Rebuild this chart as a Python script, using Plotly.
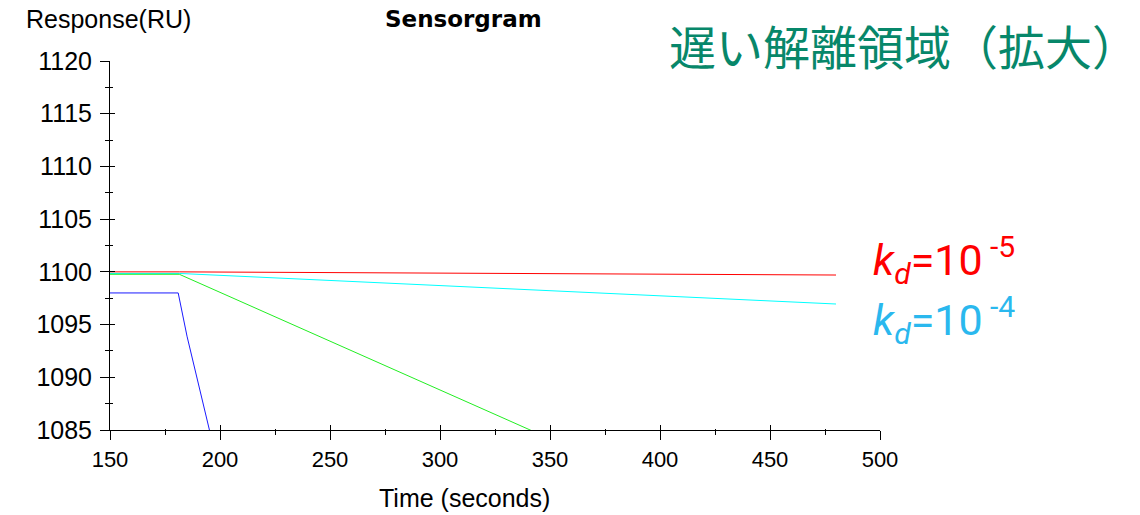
import plotly.graph_objects as go

# Sensorgram: response (RU) vs time (s) during the slow dissociation phase
time_red = [150, 181.5, 480]
resp_red = [1100.0, 1100.0, 1099.7]

time_cyan = [150, 181.5, 480]
resp_cyan = [1099.85, 1099.85, 1096.95]

time_green = [150, 181.5, 341, 360]
resp_green = [1099.77, 1099.77, 1085.0, 1083.2]

time_blue = [150, 181, 185, 195, 200]
resp_blue = [1098.0, 1098.0, 1093.9, 1085.1, 1080.8]

x_ticks = [150, 200, 250, 300, 350, 400, 450, 500]
y_ticks = [1085, 1090, 1095, 1100, 1105, 1110, 1115, 1120]

W, H = 1140, 515
L, R, T, B = 110, 260, 61, 85
PW, PH = W - L - R, H - T - B


def px(xp):
    return (xp - L) / PW


def py(yp):
    return (H - B - yp) / PH


ARIAL = "Arial, Liberation Sans, sans-serif"

fig = go.Figure()
# slow curves on the main axes, fast curves on the overlay pair (same ranges)
series = [
    (time_red, resp_red, "#ff0000", "x", "y"),
    (time_cyan, resp_cyan, "#00ffff", "x", "y"),
    (time_green, resp_green, "#22ee22", "x2", "y2"),
    (time_blue, resp_blue, "#1a1aff", "x2", "y2"),
]
for t, r, c, xa, ya in series:
    fig.add_trace(go.Scatter(x=t, y=r, mode="lines", line=dict(color=c, width=1),
                             xaxis=xa, yaxis=ya, showlegend=False, hoverinfo="skip"))

axis_common = dict(showgrid=False, zeroline=False, linecolor="black", linewidth=1,
                   tickcolor="black", tickwidth=1)

fig.update_layout(
    width=W, height=H,
    margin=dict(l=L, r=R, t=T, b=B, pad=0),
    paper_bgcolor="white", plot_bgcolor="white",
    xaxis=dict(range=[150, 500], tickvals=x_ticks, ticks="outside", ticklen=9,
               showline=True, tickfont=dict(family=ARIAL, size=22, color="black"),
               ticklabelstandoff=1,
               minor=dict(dtick=25, tick0=150, ticks="outside", ticklen=4,
                          tickcolor="black", showgrid=False),
               **axis_common),
    yaxis=dict(range=[1085, 1120], tickvals=y_ticks, ticks="outside", ticklen=9,
               showline=True, tickfont=dict(family=ARIAL, size=25, color="black"),
               ticklabelstandoff=3,
               minor=dict(dtick=2.5, tick0=1085, ticks="outside", ticklen=4,
                          tickcolor="black", showgrid=False),
               **axis_common),
    # overlay axes give the ticks their inner half so they cross the axis lines
    xaxis2=dict(range=[150, 500], overlaying="x", anchor="y2", side="bottom",
                tickvals=x_ticks, ticks="inside", ticklen=5, showticklabels=False,
                showline=False,
                minor=dict(dtick=25, tick0=150, ticks="inside", ticklen=1,
                           tickcolor="black", showgrid=False),
                **axis_common),
    yaxis2=dict(range=[1085, 1120], overlaying="y", anchor="x2", side="left",
                tickvals=y_ticks, ticks="inside", ticklen=5, showticklabels=False,
                showline=False,
                minor=dict(dtick=2.5, tick0=1085, ticks="inside", ticklen=3,
                           tickcolor="black", showgrid=False),
                **axis_common),
)

annotations = [
    dict(text="Response(RU)", x=px(24), y=py(19), xanchor="left", yanchor="middle",
         font=dict(family=ARIAL, size=25, color="black")),
    dict(text="<b>Sensorgram</b>", x=px(463), y=py(19), xanchor="center", yanchor="middle",
         font=dict(family="DejaVu Sans", size=23, color="black")),
    dict(text="Time (seconds)", x=px(464), y=py(498), xanchor="center", yanchor="middle",
         font=dict(family=ARIAL, size=25, color="black")),
    dict(text="遅い解離領域（拡大）", x=px(667), y=py(44), xanchor="left", yanchor="middle",
         font=dict(family="Noto Sans CJK JP", size=47, color="#07876a")),
    dict(text="<i>k</i><sub><i>d</i></sub>=10<sup> -5</sup>", x=px(871), y=py(260),
         xanchor="left", yanchor="middle",
         font=dict(family="Roboto", size=43, color="#ff0000")),
    dict(text="<i>k</i><sub><i>d</i></sub>=10<sup> -4</sup>", x=px(871), y=py(320),
         xanchor="left", yanchor="middle",
         font=dict(family="Roboto", size=43, color="#2ab8ee")),
]
for a in annotations:
    a.update(xref="paper", yref="paper", showarrow=False)
fig.update_layout(annotations=annotations)

fig.write_html("out.html")
